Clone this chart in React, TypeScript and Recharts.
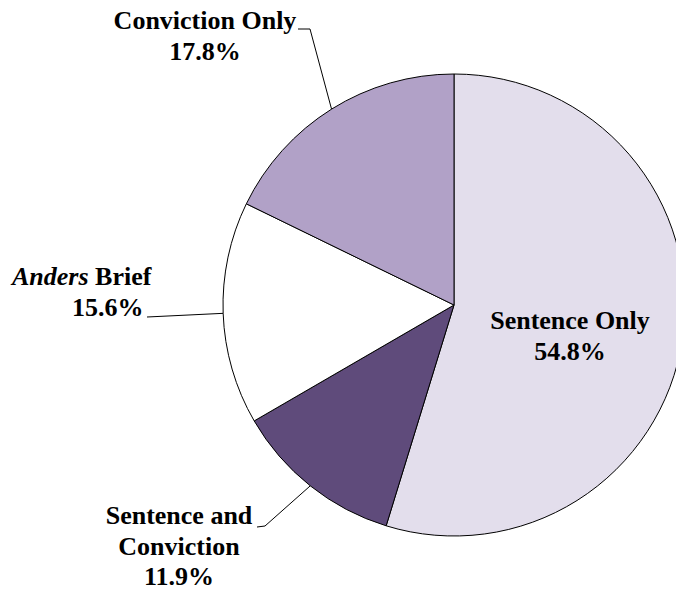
import React from 'react';
import { PieChart, Pie, Cell } from 'recharts';

// ---- data ----
const categories = ['Sentence Only', 'Sentence and Conviction', 'Anders Brief', 'Conviction Only'];
const shares = [54.8, 11.9, 15.6, 17.8];
const sliceColors = ['#E3DEEC', '#5F4B7B', '#FFFFFF', '#B1A1C7'];
const labelTextLines = [['Sentence Only'], ['Sentence and', 'Conviction'], ['Anders Brief'], ['Conviction Only']];
const italicWords = ['Anders'];

const data = categories.map((name, i) => ({ name, value: shares[i] }));

// ---- label layout (offsets from the pie centre) ----
type LineLayout = { dx: number; dy: number; anchor: 'start' | 'middle' | 'end' };
const labelLayout: { lines: LineLayout[]; leader: number[][] | null }[] = [
  {
    lines: [
      { dx: 116, dy: 24, anchor: 'middle' },
      { dx: 116, dy: 55, anchor: 'middle' },
    ],
    leader: null,
  },
  {
    lines: [
      { dx: -275, dy: 219, anchor: 'middle' },
      { dx: -275, dy: 250, anchor: 'middle' },
      { dx: -275, dy: 280, anchor: 'middle' },
    ],
    leader: [
      [-189, 221],
      [-197, 222],
    ],
  },
  {
    lines: [
      { dx: -442, dy: -20, anchor: 'start' },
      { dx: -382, dy: 11, anchor: 'start' },
    ],
    leader: [[-307, 12]],
  },
  {
    lines: [
      { dx: -249, dy: -276, anchor: 'middle' },
      { dx: -249, dy: -245, anchor: 'middle' },
    ],
    leader: [
      [-144, -276],
      [-156, -276],
    ],
  },
];

const FONT = "'Liberation Serif', 'DejaVu Serif', serif";
const RAD = Math.PI / 180;

function renderWords(text: string) {
  const words = text.split(' ');
  return words.map((w, i) => (
    <tspan key={i} style={{ fontStyle: italicWords.includes(w) ? 'italic' : 'normal' }}>
      {(i > 0 ? ' ' : '') + w}
    </tspan>
  ));
}

function renderLabel(props: any) {
  const { cx, cy, midAngle, outerRadius, index, value } = props;
  const layout = labelLayout[index];
  if (!layout) return null;
  const lines = [...labelTextLines[index], `${Number(value).toFixed(1)}%`];
  const ex = cx + outerRadius * Math.cos(-midAngle * RAD);
  const ey = cy + outerRadius * Math.sin(-midAngle * RAD);
  const pts = layout.leader ? [[ex, ey], ...layout.leader.map(([x, y]) => [cx + x, cy + y])] : null;
  return (
    <g key={`lab-${index}`}>
      {pts && (
        <polyline
          points={pts.map((p) => p.join(',')).join(' ')}
          fill="none"
          stroke="#000"
          strokeWidth={1}
        />
      )}
      {lines.map((ln, i) => {
        const l = layout.lines[i];
        return (
          <text
            key={i}
            x={cx + l.dx}
            y={cy + l.dy}
            textAnchor={l.anchor}
            style={{ fontFamily: FONT, fontWeight: 700, fontSize: 26, fill: '#000' }}
          >
            {renderWords(ln)}
          </text>
        );
      })}
    </g>
  );
}

export default function App() {
  return (
    <div
      style={{
        position: 'absolute',
        left: 0,
        top: 0,
        width: 676,
        height: 590,
        overflow: 'hidden',
        background: '#fff',
        fontFamily: FONT,
      }}
    >
      <PieChart width={676} height={590} margin={{ top: 0, right: 0, bottom: 0, left: 0 }}>
        <Pie
          data={data}
          dataKey="value"
          nameKey="name"
          cx={454}
          cy={305}
          outerRadius={231}
          startAngle={90}
          endAngle={-270}
          stroke="#000"
          strokeWidth={1}
          label={renderLabel}
          labelLine={false}
          isAnimationActive={false}
        >
          {data.map((d, i) => (
            <Cell key={d.name} fill={sliceColors[i]} />
          ))}
        </Pie>
      </PieChart>
    </div>
  );
}
